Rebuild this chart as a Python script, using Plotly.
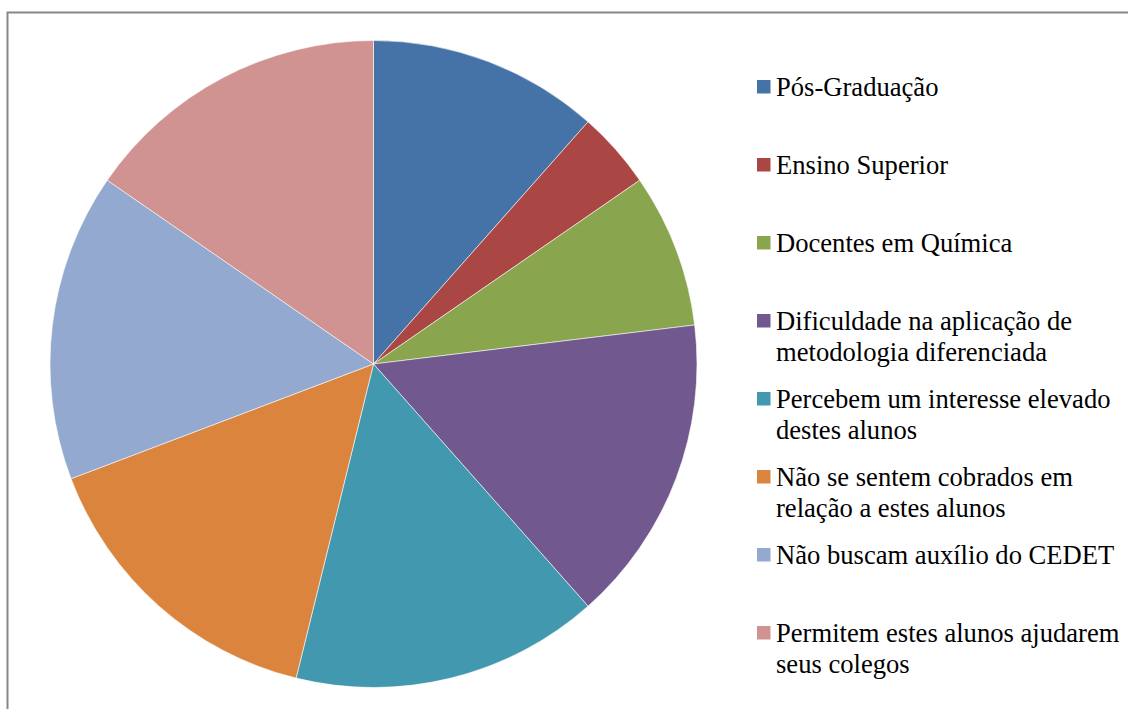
import plotly.graph_objects as go

W, H = 1128, 709

labels = [
    "Pós-Graduação",
    "Ensino Superior",
    "Docentes em Química",
    "Dificuldade na aplicação de metodologia diferenciada",
    "Percebem um interesse elevado destes alunos",
    "Não se sentem cobrados em relação a estes alunos",
    "Não buscam auxílio do CEDET",
    "Permitem estes alunos ajudarem seus colegos",
]
legend_lines = [
    ["Pós-Graduação"],
    ["Ensino Superior"],
    ["Docentes em Química"],
    ["Dificuldade na aplicação de", "metodologia diferenciada"],
    ["Percebem um interesse elevado", "destes alunos"],
    ["Não se sentem cobrados em", "relação a estes alunos"],
    ["Não buscam auxílio do CEDET"],
    ["Permitem estes alunos ajudarem", "seus colegos"],
]
values = [3, 1, 2, 4, 4, 4, 4, 4]
colors = ["#4572A7", "#AA4643", "#89A54E", "#71588F",
          "#4198AF", "#DB843D", "#93A9CF", "#D19392"]


def px(x):
    return x / W


def py(y):
    return 1 - y / H


fig = go.Figure()
fig.add_trace(go.Pie(
    labels=labels,
    values=values,
    sort=False,
    direction="clockwise",
    rotation=0,
    textinfo="none",
    hoverinfo="label+value+percent",
    marker=dict(colors=colors, line=dict(color="rgba(255,255,255,0.7)", width=0.8)),
    domain=dict(x=[px(50), px(697)], y=[py(687.5), py(40.5)]),
    showlegend=False,
))

shapes = []
annotations = []
font = dict(family="Liberation Serif", size=26.6, color="#000000")
base0 = 96        # baseline of first legend item
step = 78         # distance between legend items
line_gap = 31     # distance between lines inside an item
for i, (lines, col) in enumerate(zip(legend_lines, colors)):
    b = base0 + i * step
    shapes.append(dict(
        type="rect", xref="paper", yref="paper",
        x0=px(757), x1=px(770.5), y0=py(b - 2.5), y1=py(b - 16),
        fillcolor=col, line=dict(width=0),
    ))
    for j, t in enumerate(lines):
        annotations.append(dict(
            text=t, xref="paper", yref="paper",
            x=px(774), y=py(b + j * line_gap - 9),
            xanchor="left", yanchor="middle",
            showarrow=False, font=font, align="left",
        ))

# outer chart frame
shapes.append(dict(
    type="rect", xref="paper", yref="paper",
    x0=px(7.5), x1=px(1140), y0=py(720), y1=py(12.5),
    line=dict(color="#868686", width=2), fillcolor="rgba(0,0,0,0)",
    layer="above",
))

fig.update_layout(
    width=W, height=H,
    margin=dict(l=0, r=0, t=0, b=0),
    paper_bgcolor="white",
    plot_bgcolor="white",
    font=dict(family="Liberation Serif"),
    shapes=shapes,
    annotations=annotations,
)

fig.write_html("out.html")
